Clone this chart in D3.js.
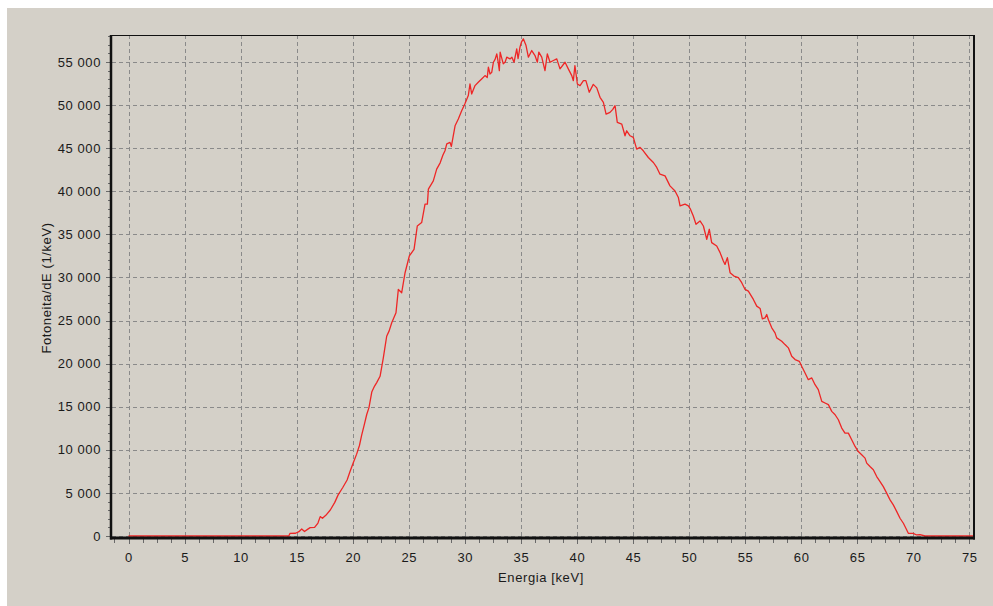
<!DOCTYPE html>
<html>
<head>
<meta charset="utf-8">
<script src="https://cdn.jsdelivr.net/npm/d3@7"></script>
<style>
  html, body { margin: 0; padding: 0; background: #ffffff; }
  svg { display: block; }
  text { font-family: "Liberation Sans", Arial, sans-serif; font-size: 13px; fill: #1a1a1a; letter-spacing: 0.6px; }
</style>
</head>
<body>
<script>
// ---- data ----
const energy = [0, 14.3, 14.4, 14.9, 15.2, 15.45, 15.7, 16.0, 16.2, 16.6, 16.9, 17.1, 17.3, 17.6, 18.0, 18.4, 18.7, 19.1, 19.5, 19.76,
  20.05, 20.35, 20.6, 20.8, 21.05, 21.25, 21.45, 21.7, 21.95, 22.14, 22.44, 22.73, 23.03, 23.25, 23.48, 23.86, 24.07, 24.37, 24.67, 25.05,
  25.47, 25.76, 26.15, 26.45, 26.66, 26.75, 27.19, 27.49, 27.8, 28.05, 28.23, 28.39, 28.68, 28.8, 29.13, 29.42, 29.72, 30.0, 30.31, 30.46,
  30.61, 30.91, 31.2, 31.5, 31.8, 32.0, 32.1, 32.25, 32.4, 32.55, 32.7, 32.85, 32.95, 33.08, 33.15, 33.43, 33.6, 33.74, 34.03, 34.2,
  34.39, 34.63, 34.75, 34.92, 35.05, 35.22, 35.46, 35.67, 35.97, 36.26, 36.47, 36.6, 36.86, 37.15, 37.36, 37.6, 37.9, 38.2, 38.49, 38.94,
  39.23, 39.54, 39.68, 39.82, 40.04, 40.28, 40.58, 40.8, 41.1, 41.46, 41.77, 42.06, 42.36, 42.6, 42.95, 43.2, 43.4, 43.6, 44.0, 44.29,
  44.44, 44.74, 45.03, 45.33, 45.63, 45.92, 46.37, 46.82, 47.12, 47.41, 47.86, 48.3, 48.75, 49.05, 49.2, 49.64, 49.94, 50.1, 50.38, 50.62,
  50.98, 51.28, 51.58, 51.81, 52.02, 52.47, 52.77, 53.06, 53.21, 53.42, 53.66, 54.01, 54.4, 54.7, 55.0, 55.29, 55.74, 56.04, 56.34, 56.54,
  56.78, 56.93, 57.08, 57.38, 57.67, 57.82, 58.27, 58.56, 58.86, 59.16, 59.46, 59.84, 60.05, 60.35, 60.64, 60.95, 61.24, 61.53, 61.84, 62.13,
  62.43, 62.73, 63.03, 63.32, 63.62, 63.91, 64.21, 64.51, 64.81, 65.1, 65.4, 65.7, 65.85, 66.14, 66.44, 66.74, 67.04, 67.33, 67.63, 67.93,
  68.22, 68.53, 68.82, 69.12, 69.42, 69.56, 70.0, 70.3, 70.6, 71.05, 75.4];
const photons = [0, 0, 300, 320, 500, 810, 520, 800, 970, 1000, 1500, 2250, 2050, 2400, 3020, 3900, 4770, 5600, 6500, 7480,
  8500, 9500, 10500, 11700, 13000, 14100, 14900, 16700, 17400, 17800, 18530, 20670, 23180, 23800, 24740, 25900, 28610, 28230, 30550, 32490,
  33260, 35970, 36370, 38500, 38500, 40240, 41210, 42570, 43300, 44200, 44700, 45500, 45670, 45200, 47600, 48380, 49350, 50130, 51100, 52450,
  51290, 52260, 52650, 53030, 53420, 53200, 54390, 53610, 53800, 54970, 55300, 55940, 55200, 54000, 56140, 54780, 55000, 55560, 55360, 55560,
  54970, 56520, 55400, 56720, 57300, 57690, 56910, 55560, 56330, 55750, 54970, 56140, 55560, 54000, 55940, 54970, 55170, 55360, 54200, 54970,
  54200, 53420, 52830, 54590, 52450, 52260, 52840, 52840, 51490, 52400, 52000, 50900, 50320, 48960, 49160, 49500, 49930, 48000, 47800, 46440,
  47020, 46440, 46250, 44890, 45090, 44700, 43920, 43340, 42760, 41980, 41790, 40630, 40040, 39270, 38300, 38500, 38300, 38000, 37130, 36170,
  36560, 35970, 34430, 35590, 34040, 33650, 32880, 31900, 31510, 32300, 30550, 30160, 29970, 29390, 28610, 28420, 27450, 26670, 26400, 25200,
  25310, 25700, 25100, 24160, 23570, 22990, 22600, 22210, 21830, 20850, 20470, 20270, 19690, 18920, 18140, 18340, 17560, 16980, 15620, 15430,
  15240, 14460, 14070, 13490, 12520, 11940, 11940, 11160, 10390, 9800, 9420, 9040, 8460, 8060, 7680, 6900, 6320, 5730, 4970, 4190,
  3610, 2830, 2060, 1480, 700, 310, 310, 120, 150, 0, 0];
const xTickValues = [0, 5, 10, 15, 20, 25, 30, 35, 40, 45, 50, 55, 60, 65, 70, 75];
const yTickValues = [0, 5000, 10000, 15000, 20000, 25000, 30000, 35000, 40000, 45000, 50000, 55000];
const xTitle = "Energia [keV]";
const yTitle = "Fotoneita/dE (1/keV)";

// ---- layout ----
const W = 993, H = 606;
const L = 112, R = 974, T = 35, B = 538;

const svg = d3.select("body").append("svg").attr("width", W).attr("height", H);
svg.append("rect").attr("x", 0).attr("y", 0).attr("width", W).attr("height", H).attr("fill", "#ffffff");
svg.append("rect").attr("x", 7).attr("y", 8).attr("width", W - 7).attr("height", H - 8).attr("fill", "#d4d0c8");

const x = d3.scaleLinear().domain([0, 75]).range([128.5, 969.3]);
const y = d3.scaleLinear().domain([0, 55000]).range([536, 62]);
const xInv = x.invert(L), xInvR = x.invert(R);
const yInvT = y.invert(T);

const loc = d3.formatLocale({ decimal: ",", thousands: " ", grouping: [3], currency: ["", ""] });
const fmt = loc.format(",d");

// grid
const grid = svg.append("g").attr("stroke", "#8a8a8a").attr("stroke-width", 1).attr("stroke-dasharray", "4,3").attr("shape-rendering", "crispEdges");
grid.selectAll("line.v").data(xTickValues).join("line").attr("class", "v")
  .attr("x1", d => Math.round(x(d)) + 0.5).attr("x2", d => Math.round(x(d)) + 0.5)
  .attr("y1", T).attr("y2", B);
grid.selectAll("line.h").data(yTickValues).join("line").attr("class", "h")
  .attr("x1", L).attr("x2", R)
  .attr("y1", d => Math.round(y(d)) + 0.5).attr("y2", d => Math.round(y(d)) + 0.5);

// minor ticks (x: every 1.25 keV, y: every 1000)
const xMinor = d3.range(-1.25, 75.5, 1.25);
const yMinor = d3.range(0, yInvT, 1000);

const xAxisMinor = d3.axisBottom(x).tickValues(xMinor).tickSize(5).tickFormat("");
svg.append("g").attr("transform", `translate(0,${B})`).call(xAxisMinor)
  .call(g => g.select(".domain").remove())
  .call(g => g.selectAll("line").attr("stroke", "#6a6a6a").attr("shape-rendering", "crispEdges"));

const yAxisMinor = d3.axisLeft(y).tickValues(yMinor).tickSize(3).tickFormat("");
svg.append("g").attr("transform", `translate(${L - 1},0)`).call(yAxisMinor)
  .call(g => g.select(".domain").remove())
  .call(g => g.selectAll("line").attr("stroke", "#6a6a6a").attr("shape-rendering", "crispEdges"));

// major axes with labels
const xAxis = d3.axisBottom(x).tickValues(xTickValues).tickSize(6).tickPadding(9).tickFormat(d => d);
svg.append("g").attr("transform", `translate(0,${B})`).call(xAxis)
  .call(g => g.select(".domain").remove())
  .call(g => g.selectAll("line").attr("stroke", "#6a6a6a").attr("shape-rendering", "crispEdges"))
  .call(g => g.selectAll("text").attr("fill", "#1a1a1a").style("font-size", "13px").attr("font-family", null));

const yAxis = d3.axisLeft(y).tickValues(yTickValues).tickSize(6).tickPadding(5).tickFormat(fmt);
svg.append("g").attr("transform", `translate(${L},0)`).call(yAxis)
  .call(g => g.select(".domain").remove())
  .call(g => g.selectAll("line").attr("stroke", "#6a6a6a").attr("shape-rendering", "crispEdges"))
  .call(g => g.selectAll("text").attr("fill", "#1a1a1a").style("font-size", "13px").attr("font-family", null));

// data line
const line = d3.line().x((d, i) => x(energy[i])).y((d, i) => y(photons[i]));
svg.append("path").datum(photons).attr("d", line)
  .attr("fill", "none").attr("stroke", "#ee2626").attr("stroke-width", 1.3).attr("stroke-linejoin", "round");

// frame
svg.append("line").attr("x1", L).attr("x2", R).attr("y1", T + 0.5).attr("y2", T + 0.5).attr("stroke", "#111").attr("stroke-width", 1);
svg.append("line").attr("x1", L - 1).attr("x2", L - 1).attr("y1", T).attr("y2", B + 1.5).attr("stroke", "#111").attr("stroke-width", 2.5);
svg.append("line").attr("x1", R).attr("x2", R).attr("y1", T).attr("y2", B + 1.5).attr("stroke", "#111").attr("stroke-width", 2);
svg.append("line").attr("x1", L - 2).attr("x2", R + 1).attr("y1", B).attr("y2", B).attr("stroke", "#111").attr("stroke-width", 3);

// titles
svg.append("text").attr("x", 541).attr("y", 582).attr("text-anchor", "middle").text(xTitle);
svg.append("text").attr("transform", "translate(51,288) rotate(-90)").attr("text-anchor", "middle").text(yTitle);
</script>
</body>
</html>
